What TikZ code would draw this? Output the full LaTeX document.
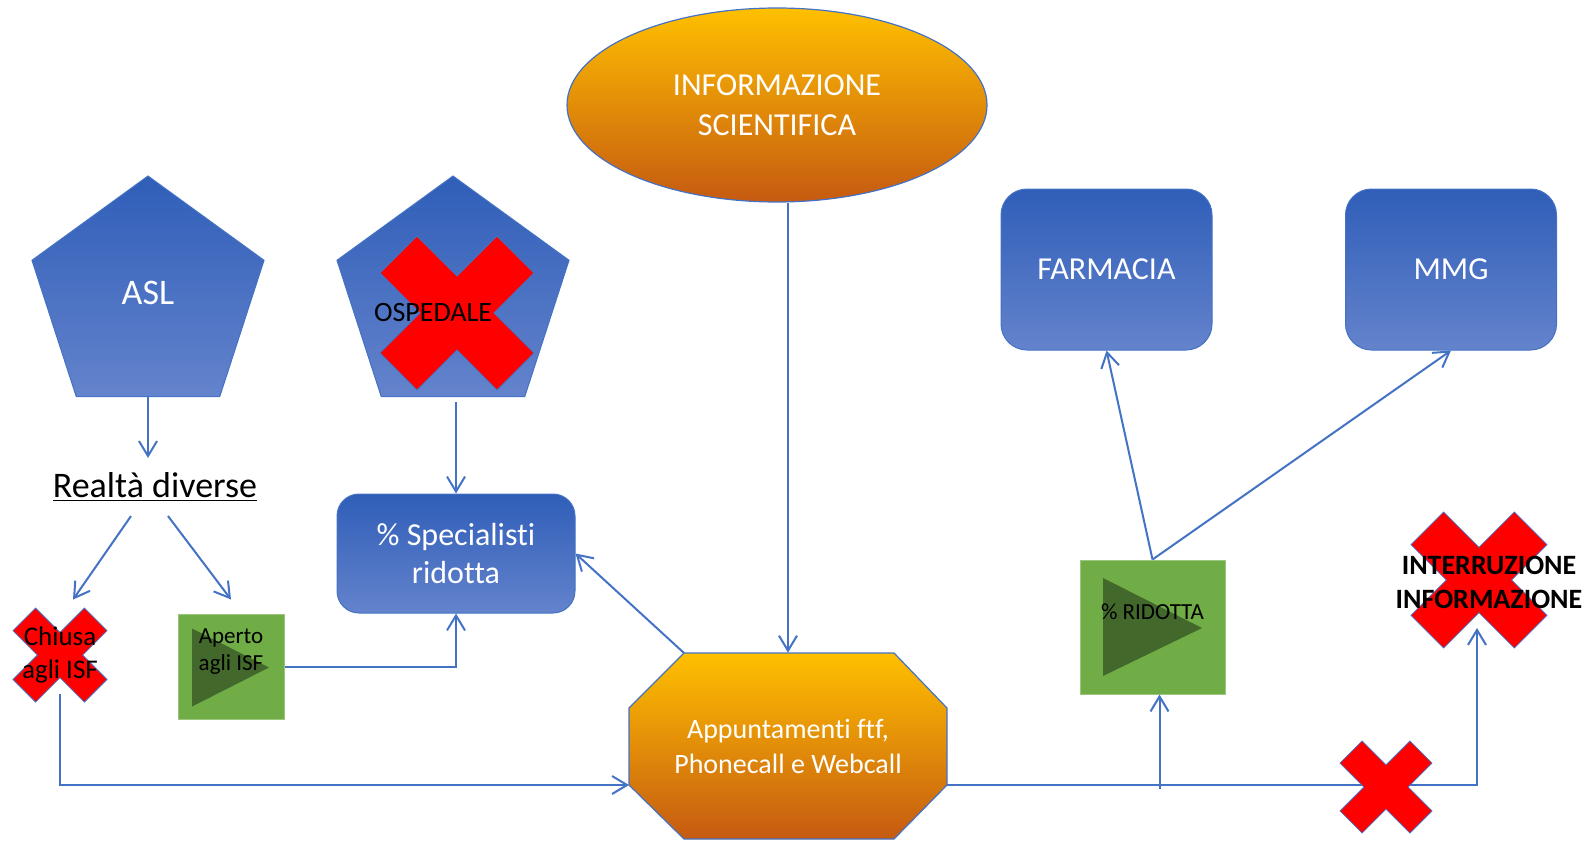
\documentclass[tikz,border=0pt]{standalone}
\usepackage{fontspec}
\setmainfont{Carlito}[Ligatures={NoCommon,NoContextual}]
\usetikzlibrary{shapes.geometric,arrows.meta,calc}

\definecolor{lineblue}{RGB}{68,114,196}
\definecolor{boxtop}{RGB}{47,94,184}
\definecolor{boxbot}{RGB}{100,131,204}
\definecolor{orangetop}{RGB}{255,192,0}
\definecolor{orangebot}{RGB}{197,90,17}
\definecolor{leafgreen}{RGB}{112,173,71}
\definecolor{darkleaf}{RGB}{67,104,43}

% red cross: half size (px), centre
\newcommand{\redcross}[2]{%
  \draw[crossfill,shift={(#2)},scale=#1]
    (-1,-.52) -- (-.52,-1) -- (0,-.48) -- (.52,-1) -- (1,-.52) -- (.48,0)
    -- (1,.52) -- (.52,1) -- (0,.48) -- (-.52,1) -- (-1,.52) -- (-.48,0) -- cycle;
}

\begin{document}
\begin{tikzpicture}[x=0.5pt,y=-0.5pt,>={Straight Barb[length=7.5pt,width=9pt]},
  conn/.style={->,draw=lineblue,line width=1pt},
  blueshade/.style={top color=boxtop,bottom color=boxbot,draw=lineblue,line width=0.5pt,text=white},
  orangeshade/.style={top color=orangetop,bottom color=orangebot,draw=lineblue,line width=0.6pt},
  pent/.style={blueshade,regular polygon,regular polygon sides=5,minimum size=122pt,inner sep=0pt},
  greenbox/.style={fill=leafgreen,draw=leafgreen!70!white,line width=0.5pt,inner sep=0pt},
  crossfill/.style={fill=red,draw=lineblue,line width=0.4pt},
  crosstext/.style={align=center,inner sep=0pt,font=\fontsize{13.5}{16.5}\selectfont}]
\useasboundingbox (0,0) rectangle (1588,840);

% Top ellipse
\node[ellipse,orangeshade,minimum width=210pt,minimum height=97pt,inner sep=0pt,
  text=white,align=center,font=\fontsize{16}{20}\selectfont] (info) at (777,105)
  {INFORMAZIONE\\SCIENTIFICA};

% Pentagons
\node[pent,label={[text=white,font=\fontsize{18}{20}\selectfont,yshift=2.5pt]center:ASL}]
  (asl) at (148,298) {};
\node[pent] (osp) at (453,298) {};

% Blue boxes
\node[blueshade,rounded corners=11pt,minimum width=119pt,minimum height=59.5pt,
  align=center,font=\fontsize{16}{19}\selectfont] (spec) at (456,553.5)
  {\% Specialisti\\ridotta};
\node[blueshade,rounded corners=13pt,minimum width=105.5pt,minimum height=80.5pt,
  font=\fontsize{16}{19}\selectfont] (farm) at (1106.5,269.5) {FARMACIA};
\node[blueshade,rounded corners=13pt,minimum width=105.5pt,minimum height=80.5pt,
  font=\fontsize{16}{19}\selectfont] (mmg) at (1451,269.5) {MMG};

% Green boxes
\node[greenbox,minimum width=53pt,minimum height=52.5pt,
  path picture={\fill[darkleaf,shift={(path picture bounding box.center)}]
    (-19.5pt,19pt) -- (-19.5pt,-20pt) -- (19pt,-0.5pt) -- cycle;},
  label={[crosstext,font=\fontsize{11.5}{13.5}\selectfont,yshift=7.5pt]center:{Aperto\\agli ISF}}]
  (aperto) at (231,666.5) {};
\node[greenbox,minimum width=72.5pt,minimum height=67pt,
  path picture={\fill[darkleaf,shift={(path picture bounding box.center)}]
    (-24.75pt,24.5pt) -- (-24.75pt,-24.5pt) -- (24.75pt,-0.5pt) -- cycle;},
  label={[crosstext,font=\fontsize{11.5}{13.5}\selectfont,yshift=7.5pt]center:{\% RIDOTTA}}]
  (ridotta) at (1152.5,627) {};

% Octagon
\draw[orangeshade] (684,653) -- (894,653) -- (947,708) -- (947,785) -- (894,839)
  -- (684,839) -- (629,785) -- (629,708) -- cycle;
\node[minimum width=159pt,minimum height=93pt,inner sep=0pt,text=white,align=center,
  font=\fontsize{14}{17.5}\selectfont] (appt) at (788,746)
  {Appuntamenti ftf,\\Phonecall e Webcall};
\coordinate (appt-in) at (629,785);
\coordinate (appt-out) at (947,785);
\coordinate (appt-nw) at (684,653);

% Crosses
\redcross{47}{60,655}
\redcross{77}{457,313}
\redcross{68}{1479,580}
\coordinate (interr-in) at (1477,628);

% Texts over the crosses
\node[crosstext,minimum size=47pt] (chiusa) at (60,655) {Chiusa\\agli ISF};
\node[crosstext,font=\fontsize{14}{17}\selectfont] (ospedale) at (433,313) {OSPEDALE};
\node[crosstext,font=\bfseries\fontsize{14}{17}\selectfont] (interr) at (1489,582)
  {INTERRUZIONE\\INFORMAZIONE};
\node[inner xsep=0pt,inner ysep=7pt,font=\fontsize{18}{20}\selectfont] (realta) at (155,487)
  {\underline{Realtà diverse}};

% Connectors
\draw[conn] (asl.south) -- (asl.south |- realta.north);
\draw[conn] ([xshift=-12pt]realta.south) -- ([shift={(6.5pt,4pt)}]chiusa.north);
\draw[conn] ([xshift=6.5pt]realta.south) -- ([yshift=7pt]aperto.north);
\draw[conn] ($(spec.north |- osp.south)+(0,5)$) -- (spec.north);
\draw[conn] (aperto.east) -| (spec.south);
\draw[conn] (appt-nw) -- (spec.east);
\draw[conn] (appt.north |- info.south) -- (appt.north);
\draw[conn] ([yshift=4pt]chiusa.south) |- (appt-in);
\draw[conn] (ridotta.north) -- (farm.south);
\draw[conn] (ridotta.north) -- (mmg.south);
\draw[conn] ($(ridotta.south)+(7,94)$) -- ($(ridotta.south)+(7,0)$);
\draw[conn] (appt-out) -| (interr-in);

% Cross on the line
\redcross{46}{1386,787}

\end{tikzpicture}
\end{document}
